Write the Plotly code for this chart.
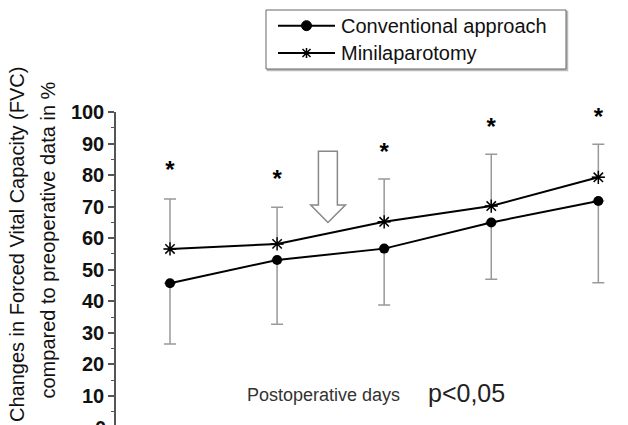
import plotly.graph_objects as go
import numpy as np

# ---- data ----
days = [1, 2, 3, 4, 5]
conventional = [45.7, 53.1, 56.7, 65.0, 71.8]
conventional_lower = [26.5, 32.7, 38.8, 47.0, 45.9]
minilaparotomy = [56.6, 58.2, 65.2, 70.2, 79.3]
minilaparotomy_upper = [72.4, 69.8, 78.8, 86.6, 89.8]
significance_level = [80.9, 78.1, 86.7, 94.6, 97.8]
y_ticks = [10, 20, 30, 40, 50, 60, 70, 80, 90, 100]
series_names = ["Conventional approach", "Minilaparotomy"]

FONT = "Arial, Liberation Sans, sans-serif"
W, H = 628, 425
ML, MR, MT, MB = 116, 0, 112, 0
PW, PH = W - ML - MR, H - MT - MB
Y0, Y1 = 0.8, 100


def px(x):  # pixel x -> paper
    return (x - ML) / PW


def py(y):  # pixel y (from top) -> paper
    return (H - MB - y) / PH


conv = np.array(conventional)
mini = np.array(minilaparotomy)

fig = go.Figure()

fig.add_trace(go.Scatter(
    x=days, y=conventional, name=series_names[0], showlegend=False,
    mode="lines+markers",
    line=dict(color="black", width=2),
    marker=dict(symbol="circle", size=10, color="black"),
    error_y=dict(type="data", symmetric=False,
                 array=[0] * len(days),
                 arrayminus=list(conv - np.array(conventional_lower)),
                 color="#999999", thickness=1.5, width=6),
))
fig.add_trace(go.Scatter(
    x=days, y=minilaparotomy, name=series_names[1], showlegend=False,
    mode="lines+markers",
    line=dict(color="black", width=2),
    marker=dict(symbol="asterisk-open", size=11, color="black",
                line=dict(color="black", width=1.5)),
    error_y=dict(type="data", symmetric=False,
                 array=list(np.array(minilaparotomy_upper) - mini),
                 arrayminus=[0] * len(days),
                 color="#999999", thickness=1.5, width=6),
))
# significance stars
fig.add_trace(go.Scatter(
    x=days, y=significance_level, mode="text", text=["*"] * len(days),
    textposition="middle center", showlegend=False, cliponaxis=False,
    textfont=dict(family=FONT, size=24, color="black", weight="bold"),
    hoverinfo="skip",
))

# hollow down arrow
arrow = "M 2.386 87.6 L 2.563 87.6 L 2.563 70.5 L 2.638 70.5 L 2.475 65.0 L 2.314 70.5 L 2.386 70.5 Z"
fig.add_shape(type="path", path=arrow, xref="x", yref="y",
              line=dict(color="#888888", width=1.5), fillcolor="white")

# ---- legend box (drawn in paper coordinates) ----
fig.add_shape(type="rect", xref="paper", yref="paper",
              x0=px(267.5), x1=px(567.5), y0=py(70.5), y1=py(11.5),
              line=dict(color="#bbbbbb", width=1.5), fillcolor="#bbbbbb")
fig.add_shape(type="rect", xref="paper", yref="paper",
              x0=px(266), x1=px(566), y0=py(69), y1=py(10),
              line=dict(color="#666666", width=1), fillcolor="white")
row_y = [25.7, 53.0]
for ry in row_y:
    fig.add_shape(type="line", xref="paper", yref="paper",
                  x0=px(278), x1=px(335), y0=py(ry), y1=py(ry),
                  line=dict(color="black", width=2))
# filled circle symbol
fig.add_shape(type="circle", xref="paper", yref="paper",
              x0=px(301.5), x1=px(311.5), y0=py(row_y[0] + 5), y1=py(row_y[0] - 5),
              line=dict(color="black", width=1), fillcolor="black")
# asterisk symbol
cx, cy, r = 306.5, row_y[1], 5
d = r * 0.8
star_path = (f"M {px(cx)} {py(cy - r)} L {px(cx)} {py(cy + r)} "
             f"M {px(cx - d)} {py(cy - d)} L {px(cx + d)} {py(cy + d)} "
             f"M {px(cx - d)} {py(cy + d)} L {px(cx + d)} {py(cy - d)}")
fig.add_shape(type="path", xref="paper", yref="paper", path=star_path,
              line=dict(color="black", width=1.5))

# tick label "0": lies just below the visible part of the axis
zero_paper = (0 - Y0) / (Y1 - Y0)
annotations = [
    dict(text="<b>0</b>", x=0, xref="paper", y=zero_paper, yref="paper",
         xanchor="right", yanchor="middle", xshift=-8, showarrow=False,
         font=dict(family=FONT, size=20, color="#111111")),
]
for name, ry in zip(series_names, row_y):
    annotations.append(dict(text=name, x=px(339), y=py(ry), xref="paper", yref="paper",
                            xanchor="left", yanchor="middle", showarrow=False,
                            font=dict(family=FONT, size=20, color="#111111")))
for txt, x, y, size, col, ang in [
    ("Changes in Forced Vital Capacity (FVC)", 17, 245, 20, "#111111", -90),
    ("compared to preoperative data in %", 47.5, 240, 20, "#111111", -90),
    ("Postoperative days", 323, 395, 18, "#333333", 0),
    ("p<0,05", 466, 393, 25, "#222222", 0),
]:
    annotations.append(dict(text=txt, x=px(x), y=py(y), xref="paper", yref="paper",
                            xanchor="center", yanchor="middle", showarrow=False,
                            textangle=ang, font=dict(family=FONT, size=size, color=col)))

fig.update_layout(
    width=W, height=H,
    margin=dict(l=ML, r=MR, t=MT, b=MB, autoexpand=False),
    paper_bgcolor="white", plot_bgcolor="white",
    font=dict(family=FONT, color="black"),
    showlegend=False,
    xaxis=dict(range=[0.4957, 5.277], visible=False),
    yaxis=dict(
        range=[Y0, Y1], tickvals=y_ticks, ticktext=[str(v) for v in y_ticks],
        showgrid=False, zeroline=False,
        showline=True, linecolor="#555555", linewidth=1.5,
        ticks="outside", ticklen=6, tickwidth=1.5, tickcolor="#555555",
        tickfont=dict(family=FONT, size=20, color="#111111", weight="bold"),
        minor=dict(dtick=5, ticks="outside", ticklen=3, tickwidth=1.2,
                   tickcolor="#555555", showgrid=False),
    ),
    annotations=annotations,
)

# remove the browser's default 8px page margin so the figure sits at the window origin
fig.write_html("out.html", config={"displayModeBar": False},
               post_script="document.body.style.margin='0px';document.body.style.overflow='hidden';")
